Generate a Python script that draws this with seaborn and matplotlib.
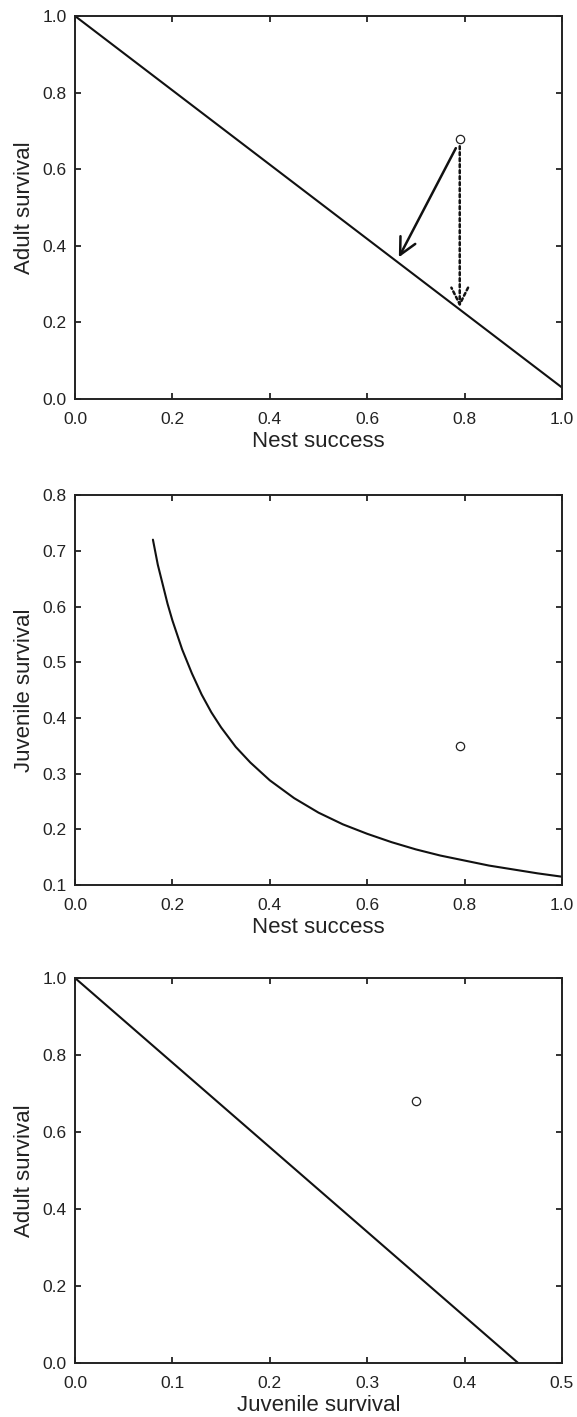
import matplotlib
matplotlib.use("Agg")
import matplotlib.pyplot as plt
import seaborn as sns

# ── Data ─────────────────────────────────────────────────────────────────────
# Panel A: adult survival vs nest success
nest_a = [0.0, 1.0]
adult_a = [1.0, 0.03]
point_a = (0.79, 0.68)
arrow_solid_tip = (0.665, 0.37)
arrow_dotted_tip = (0.79, 0.24)

# Panel B: juvenile survival vs nest success
nest_b = [0.16, 0.17, 0.18, 0.19, 0.20, 0.22, 0.24, 0.26, 0.28, 0.30, 0.33,
          0.36, 0.40, 0.45, 0.50, 0.55, 0.60, 0.65, 0.70, 0.75, 0.80, 0.85,
          0.90, 0.95, 1.00]
juv_b = [0.720, 0.675, 0.640, 0.605, 0.575, 0.523, 0.480, 0.442, 0.410, 0.383,
         0.348, 0.320, 0.288, 0.256, 0.230, 0.209, 0.192, 0.177, 0.164, 0.153,
         0.144, 0.135, 0.128, 0.121, 0.115]
point_b = (0.79, 0.35)

# Panel C: adult survival vs juvenile survival
juv_c = [0.0, 0.455]
adult_c = [1.0, 0.0]
point_c = (0.35, 0.68)

sns.set_theme(style="ticks")
plt.rcParams["font.family"] = ["Liberation Sans", "DejaVu Sans"]

fig = plt.figure(figsize=(5.77, 14.17), dpi=100)
ax1 = fig.add_axes([0.130, 0.7184, 0.844, 0.2703])
ax2 = fig.add_axes([0.130, 0.3754, 0.844, 0.2752])
ax3 = fig.add_axes([0.130, 0.0381, 0.844, 0.2717])

INK = "#222222"


def style_axis(ax, xlim, ylim, xticks, yticks, xlabel, ylabel):
    ax.set_xlim(*xlim)
    ax.set_ylim(*ylim)
    ax.set_xticks(xticks)
    ax.set_yticks(yticks)
    ax.set_xticklabels([f"{t:.1f}" for t in xticks])
    ax.set_yticklabels([f"{t:.1f}" for t in yticks])
    ax.tick_params(direction="in", top=True, right=True, length=4, width=1.3,
                   labelsize=12.5, colors=INK)
    ax.tick_params(axis="x", pad=9)
    ax.tick_params(axis="y", pad=6)
    for s in ax.spines.values():
        s.set_linewidth(1.4)
        s.set_color(INK)
    ax.set_xlabel(xlabel, fontsize=16, color=INK, labelpad=3)
    ax.set_ylabel(ylabel, fontsize=16, color=INK, labelpad=5)


def draw_point(ax, pt):
    sns.scatterplot(x=[pt[0]], y=[pt[1]], ax=ax, s=36, facecolor="white",
                    edgecolor=INK, linewidth=0.9, zorder=5)


# Panel A
sns.lineplot(x=nest_a, y=adult_a, ax=ax1, color="#111111", linewidth=1.5)
draw_point(ax1, point_a)
head = "->,head_length=1.0,head_width=0.5"
ax1.annotate("", xy=arrow_solid_tip, xytext=(point_a[0] - 0.008, point_a[1] - 0.025),
             arrowprops=dict(arrowstyle=head, color="#111111", lw=1.8,
                             shrinkA=0, shrinkB=0))
ax1.annotate("", xy=arrow_dotted_tip, xytext=(point_a[0], point_a[1] - 0.02),
             arrowprops=dict(arrowstyle=head, color="#111111", lw=1.8,
                             linestyle=(0, (1.2, 1.2)), shrinkA=0, shrinkB=0))
style_axis(ax1, (0, 1), (0, 1), [0, 0.2, 0.4, 0.6, 0.8, 1.0],
           [0, 0.2, 0.4, 0.6, 0.8, 1.0], "Nest success", "Adult survival")

# Panel B
sns.lineplot(x=nest_b, y=juv_b, ax=ax2, color="#111111", linewidth=1.5)
draw_point(ax2, point_b)
style_axis(ax2, (0, 1), (0.1, 0.8), [0, 0.2, 0.4, 0.6, 0.8, 1.0],
           [0.1, 0.2, 0.3, 0.4, 0.5, 0.6, 0.7, 0.8], "Nest success", "Juvenile survival")

# Panel C
sns.lineplot(x=juv_c, y=adult_c, ax=ax3, color="#111111", linewidth=1.5)
draw_point(ax3, point_c)
style_axis(ax3, (0, 0.5), (0, 1), [0, 0.1, 0.2, 0.3, 0.4, 0.5],
           [0, 0.2, 0.4, 0.6, 0.8, 1.0], "Juvenile survival", "Adult survival")

fig.savefig("out.png", dpi=100, facecolor="white")
